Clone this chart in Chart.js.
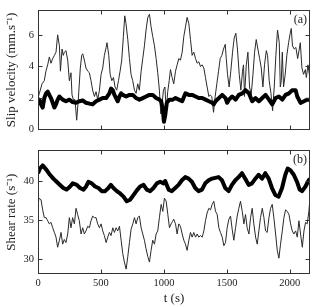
<!DOCTYPE html>
<html><head><meta charset="utf-8">
<script src="https://cdn.jsdelivr.net/npm/chart.js@4"></script>
<style>
html,body{margin:0;padding:0;background:#fff;}
#wrap{position:relative;width:316px;height:307px;overflow:hidden;}
canvas{position:absolute;left:0;}
</style></head><body>
<div id="wrap">
<canvas id="ca" width="316" height="140" style="top:0px"></canvas>
<canvas id="cb" width="316" height="167" style="top:140px"></canvas>
</div>
<script>
// ---- data ----
const xTicks = [0, 500, 1000, 1500, 2000];
const slipTicks = [0, 2, 4, 6];
const shearTicks = [30, 35, 40];

const slipThinT = [0,11,32,50,63,77,90,103,117,130,143,156,170,178,191,201,209,222,236,249,262,270,281,294,307,320,336,347,355,368,381,395,408,421,434,448,461,474,488,501,514,527,541,548,562,573,586,599,612,625,639,652,665,678,689,699,713,726,739,752,766,779,792,805,819,832,845,858,872,885,898,911,925,938,951,964,975,985,996,1008,1018,1030,1042,1052,1065,1078,1092,1105,1118,1131,1145,1158,1171,1184,1198,1211,1224,1237,1251,1264,1277,1290,1304,1317,1330,1343,1357,1367,1380,1394,1407,1420,1434,1447,1460,1473,1487,1495,1505,1518,1531,1545,1558,1571,1584,1598,1611,1624,1632,1640,1654,1667,1680,1693,1707,1720,1733,1746,1760,1773,1786,1799,1813,1823,1836,1850,1863,1876,1889,1902,1916,1924,1932,1940,1950,1963,1976,1990,2003,2011,2021,2035,2048,2062,2075,2083,2096,2109,2123,2131,2144,2155,2160];
const slipThinV = [2.0,2.3,2.9,3.1,3.7,4.1,4.6,4.2,4.5,4.7,4.9,6.0,5.3,3.7,5.1,4.7,4.9,5.0,4.4,3.1,3.6,2.2,1.9,1.9,0.6,1.9,3.9,4.7,4.8,4.4,3.9,3.7,3.6,3.1,2.5,2.1,2.4,1.9,2.5,3.5,3.9,4.7,5.2,5.5,4.7,3.5,3.1,3.3,2.7,2.5,3.1,3.7,4.4,5.9,7.2,6.7,5.7,4.5,3.5,3.1,2.5,2.3,2.9,2.5,3.7,4.5,5.3,6.3,7.1,7.3,6.5,5.9,5.3,4.5,3.6,2.5,1.0,1.6,2.5,2.7,1.2,2.4,3.1,3.8,3.3,2.9,3.7,4.1,4.5,4.4,4.9,5.9,6.5,7.1,6.7,5.7,4.7,4.9,4.5,4.2,4.3,4.0,4.1,3.9,3.3,2.7,2.1,2.2,2.1,1.1,2.1,2.9,3.7,4.5,4.7,5.1,5.4,4.5,3.5,2.7,3.7,4.9,5.8,6.1,5.1,3.5,2.5,3.7,4.1,2.1,4.1,4.9,2.7,2.2,3.5,4.9,5.7,5.1,4.5,3.9,2.7,4.1,5.0,4.7,3.1,2.3,1.2,2.7,4.7,6.3,5.5,2.7,3.1,4.9,2.7,3.5,4.7,5.5,6.1,6.4,5.3,5.1,5.2,4.5,5.1,5.5,3.9,3.5,3.8,3.3,4.1,3.5,3.1];

const slipThickT = [0,11,24,37,50,64,77,90,103,117,130,143,156,170,183,196,222,249,275,302,328,355,381,408,434,461,488,514,541,567,580,594,607,620,633,647,660,673,700,726,753,779,805,832,858,885,911,938,964,978,991,1000,1010,1023,1044,1071,1092,1118,1145,1171,1198,1224,1251,1277,1304,1330,1357,1383,1396,1410,1436,1463,1489,1502,1516,1542,1569,1595,1622,1648,1675,1701,1728,1754,1781,1807,1834,1860,1887,1913,1940,1966,1993,2019,2046,2059,2085,2112,2138,2160];
const slipThickV = [1.8,1.9,1.6,1.4,2.0,2.3,2.4,2.2,2.0,1.7,1.4,1.6,1.9,2.1,2.0,1.9,1.8,1.9,1.75,1.7,1.8,1.85,1.7,1.65,1.6,1.8,1.9,2.0,2.0,2.3,2.6,2.5,2.2,2.0,1.8,2.1,2.3,2.2,2.1,2.2,2.2,2.0,1.9,2.0,2.1,2.2,2.2,2.0,1.9,1.8,1.3,0.5,0.9,1.7,1.9,1.9,2.0,1.9,1.8,2.3,2.2,2.2,2.1,2.0,2.0,1.9,1.8,1.7,1.6,1.8,2.0,2.2,2.0,1.7,1.9,2.1,1.9,2.2,2.3,2.5,2.3,1.8,2.0,1.8,2.0,2.2,1.9,1.6,2.0,2.1,1.9,2.2,2.3,2.5,2.5,2.1,1.7,1.8,1.9,1.9];

const shearThickT = [0,16,37,69,95,122,148,175,201,228,255,276,308,334,361,382,400,427,453,480,506,533,559,578,599,626,652,679,705,732,758,785,811,838,864,891,917,944,970,997,1010,1037,1063,1090,1116,1143,1169,1196,1222,1249,1275,1302,1328,1355,1381,1408,1434,1461,1487,1514,1540,1567,1593,1620,1646,1673,1699,1726,1752,1779,1805,1832,1858,1885,1911,1938,1964,1983,2004,2031,2057,2078,2097,2124,2150,2160];
const shearThickV = [41.0,41.6,42.0,41.4,40.8,40.3,39.9,39.5,39.1,38.9,39.3,39.7,39.5,39.1,38.9,39.3,39.9,39.7,39.3,39.1,38.7,38.7,39.1,39.5,39.1,38.7,38.4,38.0,37.4,37.6,38.2,38.8,39.3,39.5,38.9,38.7,39.1,39.7,39.9,39.7,40.0,38.9,38.7,39.1,39.5,40.1,40.5,40.3,39.9,39.1,38.7,38.9,39.7,40.1,40.3,40.4,40.5,40.1,39.1,38.7,39.5,40.1,40.5,41.0,40.3,39.5,39.7,40.3,40.8,40.3,41.0,40.3,39.1,38.2,38.0,39.1,40.8,41.6,41.4,40.8,39.9,38.9,38.7,39.3,40.1,40.3];

const shearThinT = [0,5,24,37,50,64,77,90,103,117,130,143,156,170,183,196,209,222,236,249,262,275,289,302,315,328,342,355,368,381,395,408,421,434,448,461,474,488,501,514,527,541,554,567,580,594,607,620,633,647,660,673,686,700,713,726,739,753,766,779,792,805,819,832,845,858,872,885,898,911,925,938,951,964,978,991,1004,1018,1031,1044,1057,1068,1078,1092,1105,1118,1131,1145,1158,1171,1184,1198,1211,1224,1237,1251,1264,1277,1290,1304,1317,1330,1343,1357,1370,1383,1396,1410,1423,1436,1449,1463,1476,1489,1502,1516,1529,1542,1555,1569,1582,1595,1608,1622,1635,1648,1661,1675,1688,1701,1714,1728,1741,1754,1767,1781,1794,1807,1820,1834,1847,1860,1873,1887,1900,1913,1926,1940,1953,1966,1979,1993,2006,2019,2032,2046,2059,2072,2085,2099,2112,2125,2138,2151,2160];
const shearThinV = [37.4,37.8,37.6,36.3,35.3,35.3,34.9,34.5,34.7,34.0,33.4,32.8,31.5,32.4,33.4,31.9,32.5,32.1,33.2,35.3,34.0,35.3,34.5,36.5,35.7,34.9,33.2,34.0,33.2,33.6,34.2,34.0,34.9,35.5,35.3,35.3,34.5,34.0,34.5,33.6,33.0,32.1,32.8,33.4,33.0,34.0,33.4,34.0,33.6,34.2,32.4,30.7,29.6,28.7,30.3,32.1,33.8,34.5,35.3,34.5,35.3,35.5,34.0,33.2,32.4,31.3,30.3,29.6,31.1,32.4,31.9,33.2,33.6,35.3,37.0,36.1,37.8,37.4,35.7,34.0,34.5,34.8,35.1,34.5,33.2,34.5,34.2,33.2,32.4,31.9,31.1,32.4,33.4,32.8,33.4,32.8,33.2,32.8,33.0,32.8,33.6,34.9,35.9,36.5,36.3,37.0,37.4,36.1,35.7,34.0,33.4,32.8,31.7,32.1,34.0,35.1,35.5,33.8,32.4,34.0,35.5,36.5,37.4,36.1,34.5,35.7,34.0,33.2,35.3,36.5,34.5,32.8,31.9,33.6,35.3,36.5,35.3,33.6,33.4,35.3,36.5,37.0,35.3,33.2,31.1,30.1,31.9,33.6,35.3,36.3,36.1,35.7,34.5,33.6,33.2,33.6,32.8,34.9,33.2,31.5,33.6,34.7,34.5,36.1,37.8];

// ---- helpers ----
function pts(T, V) { return T.map((t, i) => ({x: t, y: V[i]})); }
const FONT = '"Liberation Serif", "Times New Roman", serif';
const TXT = '#222';

const boxTicks = {
  id: 'boxTicks',
  afterDraw(chart, args, opts) {
    const ctx = chart.ctx, a = chart.chartArea;
    const L = Math.round(a.left) + 0.5, R = Math.round(a.right) - 0.5;
    const T = Math.round(a.top) + 0.5, B = Math.round(a.bottom) - 0.5;
    ctx.save();
    ctx.strokeStyle = '#333';
    ctx.lineWidth = 1;
    ctx.strokeRect(L, T, R - L, B - T);
    const tl = 4;
    ctx.beginPath();
    chart.scales.x.ticks.forEach(tk => {
      const px = Math.round(chart.scales.x.getPixelForValue(tk.value)) + 0.5;
      if (px <= L + 1 || px >= R - 1) return;
      ctx.moveTo(px, B); ctx.lineTo(px, B - tl);
      ctx.moveTo(px, T); ctx.lineTo(px, T + tl);
    });
    chart.scales.y.ticks.forEach(tk => {
      const py = Math.round(chart.scales.y.getPixelForValue(tk.value)) + 0.5;
      if (py <= T + 1 || py >= B - 1) return;
      ctx.moveTo(L, py); ctx.lineTo(L + tl, py);
      ctx.moveTo(R, py); ctx.lineTo(R - tl, py);
    });
    ctx.stroke();
    if (opts.label) {
      ctx.fillStyle = TXT;
      ctx.font = '12px ' + FONT;
      ctx.textAlign = 'right';
      ctx.textBaseline = 'middle';
      ctx.fillText(opts.label, a.right - 3, a.top + 10);
    }
    ctx.restore();
  }
};

function makeChart(id, cfg) {
  return new Chart(document.getElementById(id), {
    type: 'line',
    data: { datasets: [
      { data: cfg.thick, borderColor: '#000', borderWidth: 4, pointRadius: 0, tension: 0, borderJoinStyle: 'round' },
      { data: cfg.thin, borderColor: '#2a2a2a', borderWidth: 1, pointRadius: 0, tension: 0 }
    ]},
    options: {
      responsive: false,
      animation: false,
      events: [],
      layout: { padding: { top: cfg.padTop, right: 6, left: 0, bottom: 0 } },
      plugins: { legend: { display: false }, tooltip: { enabled: false }, boxTicks: { label: cfg.label } },
      scales: {
        x: {
          type: 'linear', min: 0, max: 2160,
          afterBuildTicks: s => { s.ticks = xTicks.map(v => ({ value: v })); },
          afterFit: s => { s.height = cfg.xHeight; },
          grid: { display: false, drawTicks: false },
          border: { display: false },
          ticks: { display: cfg.xLabels, padding: 3, color: TXT, font: { family: FONT, size: 10.5 }, maxRotation: 0,
                   callback: v => String(v) },
          title: { display: cfg.xLabels, text: 't (s)', color: TXT, font: { family: FONT, size: 13 }, padding: { top: 0, bottom: 1 } }
        },
        y: {
          type: 'linear', min: cfg.yMin, max: cfg.yMax,
          afterBuildTicks: s => { s.ticks = cfg.yTicks.map(v => ({ value: v })); },
          afterFit: s => { s.width = 38; },
          grid: { display: false, drawTicks: false },
          border: { display: false },
          ticks: { padding: 4, color: TXT, font: { family: FONT, size: 10.5 }, callback: v => String(v) },
          title: { display: true, text: cfg.yTitle, color: TXT, font: { family: FONT, size: 13 }, padding: { top: 4, bottom: 0 } }
        }
      }
    },
    plugins: [boxTicks]
  });
}

makeChart('ca', {
  thin: pts(slipThinT, slipThinV), thick: pts(slipThickT, slipThickV),
  padTop: 5, xHeight: 8, xLabels: false,
  yMin: 0, yMax: 7.55, yTicks: slipTicks,
  yTitle: 'Slip velocity (mm.s\u207B\u00B9)', label: '(a)'
});
makeChart('cb', {
  thin: pts(shearThinT, shearThinV), thick: pts(shearThickT, shearThickV),
  padTop: 8, xHeight: 33, xLabels: true,
  yMin: 28.07, yMax: 43.94, yTicks: shearTicks,
  yTitle: 'Shear rate (s\u207B\u00B9)', label: '(b)'
});
</script>
</body></html>
